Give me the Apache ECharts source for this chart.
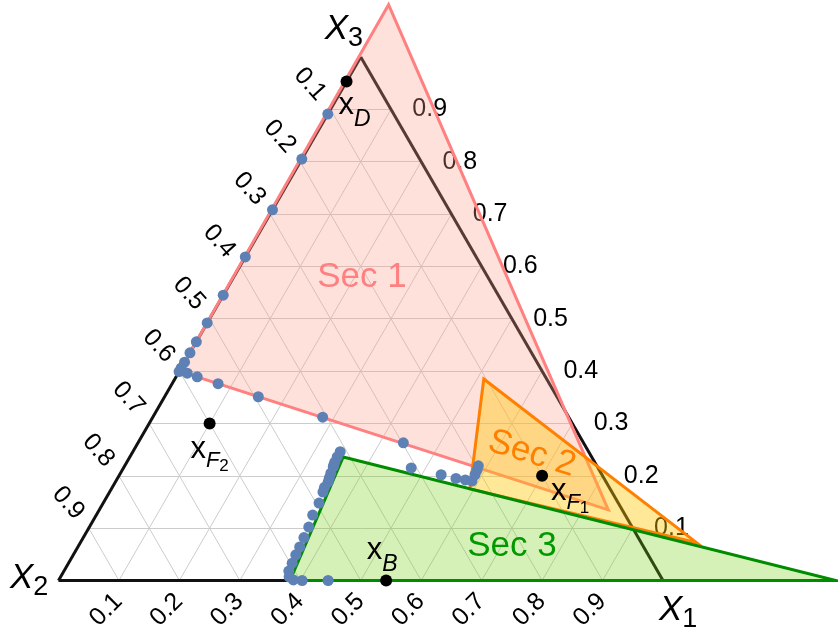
<!DOCTYPE html>
<html>
<head>
<meta charset="utf-8">
<script src="https://cdn.jsdelivr.net/npm/echarts@6/dist/echarts.min.js"></script>
<style>
  html, body { margin: 0; padding: 0; background: #fff; }
  #chart { width: 838px; height: 636px; }
</style>
</head>
<body>
<div id="chart"></div>
<script>
"use strict";

// compositions are written as [x1, x3]; x2 = 1 - x1 - x3
var ticks = [0.1, 0.2, 0.3, 0.4, 0.5, 0.6, 0.7, 0.8, 0.9];
var tickLabels = ["0.1", "0.2", "0.3", "0.4", "0.5", "0.6", "0.7", "0.8", "0.9"];

var sec1 = [[-0.004, 1.1], [0, 0.4], [0.842, 0.135]];
var sec2 = [[0.511, 0.385], [1.02, 0.072], [0.593, 0.175]];
var sec3 = [[0.353, 0.236], [1.286, 0], [0.383, 0]];

var leftEdgePoints = [
  [0, 0.891], [0, 0.805], [0, 0.708], [0, 0.618], [0, 0.545], [0, 0.492],
  [0, 0.456], [0, 0.435], [0, 0.417], [0, 0.406], [0, 0.399]
];
var sec1EdgePoints = [
  [0.015, 0.396], [0.035, 0.389], [0.076, 0.376], [0.155, 0.351], [0.281, 0.312],
  [0.439, 0.263], [0.476, 0.215], [0.532, 0.202], [0.56, 0.195], [0.577, 0.192],
  [0.589, 0.19], [0.588, 0.202], [0.587, 0.211], [0.585, 0.219]
];
var sec3EdgePoints = [
  [0.343, 0.246], [0.343, 0.236], [0.344, 0.226], [0.345, 0.221], [0.346, 0.217],
  [0.348, 0.205], [0.35, 0.196], [0.352, 0.188], [0.351, 0.178], [0.353, 0.169],
  [0.357, 0.148], [0.358, 0.125], [0.363, 0.102], [0.365, 0.082], [0.367, 0.064],
  [0.368, 0.049], [0.37, 0.033], [0.372, 0.018], [0.378, 0.007], [0.388, 0.001],
  [0.403, 0], [0.446, 0]
];

var streamPoints = [[0, 0.953], [0.1, 0.3], [0.7, 0.2], [0.542, 0]];
var streamNames = ["D", "F2", "F1", "B"];

var secNames = ["Sec 1", "Sec 2", "Sec 3"];
var secLabelAt = [[0.212, 0.58], [0.662, 0.242], [0.717, 0.066]];

var vertexNames = ["1", "2", "3"];
var vertexLabelAt = [[1.056, -0.062], [-0.048, -0.001], [-0.052, 1.048]];

var H = Math.sqrt(3) / 2;
function xy(p) {
  return [p[0] + p[1] / 2, p[1] * H];
}

var FONT = "Liberation Sans";

var chart = echarts.init(document.getElementById("chart"));

// grid lines, one for each tick in each direction
var gridData = [];
ticks.forEach(function (k) {
  gridData.push({ coords: [xy([k, 0]), xy([k, 1 - k])] });
  gridData.push({ coords: [xy([0, k]), xy([1 - k, k])] });
  gridData.push({ coords: [xy([0, 1 - k]), xy([1 - k, 0])] });
});
var frameData = [
  { coords: [xy([0, 0]), xy([1, 0])] },
  { coords: [xy([1, 0]), xy([0, 1])] },
  { coords: [xy([0, 1]), xy([0, 0])] }
];

// plain text placed at a composition, drawn by a custom series
function textSeries(z, items) {
  return {
    type: "custom",
    z: z,
    silent: true,
    data: items.map(function (it) { return xy(it.at); }),
    renderItem: function (params, api) {
      var it = items[params.dataIndex];
      var c = api.coord(xy(it.at));
      return {
        type: "text",
        x: c[0],
        y: c[1],
        rotation: (it.rotate || 0) * Math.PI / 180,
        style: Object.assign({
          align: "center",
          verticalAlign: "middle",
          fontFamily: FONT,
          fill: "#000"
        }, it.style)
      };
    }
  };
}

function tickItems(posFn, rotate) {
  return ticks.map(function (k, i) {
    return { at: posFn(k), rotate: rotate, style: { text: tickLabels[i], fontSize: 25 } };
  });
}

function polySeries(pts, fill, stroke, z) {
  return {
    type: "custom",
    z: z,
    silent: true,
    data: [xy(pts[0])],
    renderItem: function (params, api) {
      var points = pts.map(function (p) {
        return api.coord(xy(p));
      });
      return {
        type: "polygon",
        shape: { points: points },
        style: { fill: fill, stroke: stroke, lineWidth: 3, lineJoin: "miter" }
      };
    }
  };
}

var vertexRich = {
  X: { fontSize: 35, fontFamily: FONT, fill: "#000", fontStyle: "italic", padding: [0, 0, 6, 0], verticalAlign: "bottom" },
  v: { fontSize: 27, fontFamily: FONT, fill: "#000", verticalAlign: "bottom" }
};
var streamOffsets = [[8, 29], [0, 31], [28, 21], [-4, -25]];
var streamFormat = [
  "{x|x}{s|D}",
  "{x|x}{f|F}{n|2}",
  "{x|x}{f|F}{n|1}",
  "{x|x}{s|B}"
];
var secColors = ["#ff8080", "#ff8000", "#009a00"];

var textBelow = []
  .concat(tickItems(function (k) { return [k + 0.007, -0.056]; }, 45))
  .concat(tickItems(function (k) { return [-0.058, 1.048 - k]; }, -48))
  .concat(tickItems(function (k) { return [1.064 - k, k]; }, 0));

var textAbove = [];
secNames.forEach(function (n, i) {
  textAbove.push({
    at: secLabelAt[i],
    rotate: i === 1 ? -17 : 0,
    style: { text: n, fontSize: 35, fill: secColors[i] }
  });
});
vertexNames.forEach(function (n, i) {
  textAbove.push({
    at: vertexLabelAt[i],
    style: { text: "{X|X}{v|" + n + "}", rich: vertexRich }
  });
});

chart.setOption({
  animation: false,
  grid: { left: 0, right: 0, top: 0, bottom: 0 },
  xAxis: { type: "value", min: -58.5 / 604.5, max: 779.5 / 604.5, show: false },
  yAxis: { type: "value", min: -55.5 / 604.5, max: 580.5 / 604.5, show: false },
  series: [
    {
      type: "lines",
      coordinateSystem: "cartesian2d",
      z: 1,
      silent: true,
      lineStyle: { color: "#cccccc", width: 1, opacity: 1 },
      data: gridData
    },
    {
      type: "lines",
      coordinateSystem: "cartesian2d",
      z: 2,
      silent: true,
      lineStyle: { color: "#111", width: 3, opacity: 1 },
      data: frameData
    },
    textSeries(2, textBelow),
    polySeries(sec1, "rgba(255,155,140,0.3)", "#ff8080", 3),
    polySeries(sec2, "rgba(255,200,0,0.4)", "#ff8000", 4),
    polySeries(sec3, "rgba(120,210,20,0.3)", "#008c00", 5),
    {
      type: "scatter",
      z: 6,
      silent: true,
      symbolSize: 11,
      itemStyle: { color: "#5e81b5", opacity: 1 },
      data: leftEdgePoints.concat(sec1EdgePoints, sec3EdgePoints).map(xy)
    },
    {
      type: "scatter",
      z: 7,
      silent: true,
      symbolSize: 12,
      itemStyle: { color: "#000", opacity: 1 },
      label: {
        show: true,
        position: "inside",
        fontFamily: FONT,
        color: "#000",
        rich: {
          x: { fontSize: 31, fontFamily: FONT, color: "#000", padding: [0, 0, 10, 0], verticalAlign: "bottom" },
          s: { fontSize: 23, fontFamily: FONT, color: "#000", fontStyle: "italic", verticalAlign: "bottom" },
          f: { fontSize: 22, fontFamily: FONT, color: "#000", fontStyle: "italic", padding: [0, 0, 3, 0], verticalAlign: "bottom" },
          n: { fontSize: 17, fontFamily: FONT, color: "#000", verticalAlign: "bottom" }
        }
      },
      data: streamPoints.map(function (p, i) {
        return {
          name: streamNames[i],
          value: xy(p),
          label: { formatter: streamFormat[i], offset: streamOffsets[i] }
        };
      })
    },
    textSeries(8, textAbove)
  ]
});
</script>
</body>
</html>
